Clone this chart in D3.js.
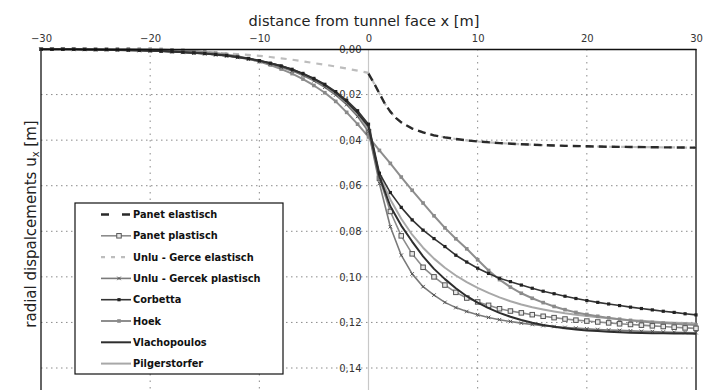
<!DOCTYPE html>
<html>
<head>
<meta charset="utf-8">
<script src="https://cdn.jsdelivr.net/npm/d3@7"></script>
<style>
  html, body { margin: 0; padding: 0; background: #ffffff; }
  svg { display: block; font-family: "DejaVu Sans", Verdana, sans-serif; }
</style>
</head>
<body>
<svg id="chart" width="713" height="390"></svg>
<script>
// x positions (m) of the calculated points
const xFull = [-30,-29,-28,-27,-26,-25,-24,-23,-22,-21,-20,-19,-18,-17,-16,-15,-14,-13,-12,-11,
  -10,-9,-8,-7,-6,-5,-4,-3,-2,-1,0,1,2,3,4,5,6,7,8,9,10,11,12,13,14,15,16,17,18,19,20,
  21,22,23,24,25,26,27,28,29,30];
const xFace = [0,1,2,3,4,5,6,7,8,9,10,11,12,13,14,15,16,17,18,19,20,21,22,23,24,25,26,27,28,29,30];
const xElastic = [0,0.5,1,1.5,2,2.5,3,4,5,6,7,8,9,10,12,14,16,18,20,22,24,26,28,30];
const xUnluElastic = [-30,-28,-26,-24,-22,-20,-18,-16,-14,-12,-10,-9,-8,-7,-6,-5,-4,-3,-2,-1,
  0,0.5,1,1.5,2,2.5,3,4,5,6,7,8,9,10,12,14,16,18,20,22,24,26,28,30];

const xTicks = [-30, -20, -10, 0, 10, 20, 30];
const yTicks = [0, 0.02, 0.04, 0.06, 0.08, 0.10, 0.12, 0.14];

// radial displacements u_x [m]
const panetElastisch = [0.0108,0.0150,0.0195,0.0240,0.0275,0.0302,0.0322,0.0349,0.0366,0.0379,
  0.0388,0.0395,0.0401,0.0406,0.0413,0.0418,0.0422,0.0425,0.0427,0.0429,0.0430,0.0431,0.0432,0.0433];

const unluElastisch = [0,0.0001,0.0001,0.0002,0.0003,0.0005,0.0008,0.0011,0.0016,0.0022,
  0.0030,0.0035,0.0041,0.0047,0.0054,0.0062,0.0069,0.0077,0.0086,0.0095,
  0.0105,0.0150,0.0195,0.0240,0.0275,0.0302,0.0322,0.0349,0.0366,0.0379,
  0.0388,0.0395,0.0401,0.0406,0.0413,0.0418,0.0422,0.0425,0.0427,0.0429,0.0430,0.0431,0.0432,0.0433];

const panetPlastisch = [0.0363,0.0567,0.0713,0.0820,0.0899,0.0958,0.1000,0.1036,0.1068,0.1093,
  0.1110,0.1125,0.1140,0.1150,0.1158,0.1166,0.1173,0.1179,0.1185,0.1190,
  0.1194,0.1198,0.1202,0.1206,0.1209,0.1212,0.1215,0.1218,0.1221,0.1224,0.1226];

const unluPlastisch = [0.0001,0.0001,0.0001,0.0002,0.0002,0.0003,0.0003,0.0004,0.0005,0.0007,
  0.0008,0.0010,0.0012,0.0015,0.0018,0.0021,0.0026,0.0031,0.0037,0.0045,
  0.0055,0.0066,0.0080,0.0096,0.0116,0.0140,0.0168,0.0202,0.0244,0.0296,
  0.0363,0.0590,0.0780,0.0905,0.0987,0.1043,0.1080,0.1112,0.1135,0.1152,
  0.1166,0.1178,0.1188,0.1196,0.1203,0.1209,0.1214,0.1218,0.1222,0.1225,
  0.1228,0.1231,0.1233,0.1235,0.1237,0.1239,0.1240,0.1242,0.1243,0.1244,0.1245];

const corbetta = [0.0001,0.0001,0.0001,0.0001,0.0002,0.0003,0.0003,0.0004,0.0005,0.0006,
  0.0008,0.0010,0.0012,0.0014,0.0017,0.0020,0.0024,0.0029,0.0035,0.0042,
  0.0051,0.0062,0.0074,0.0089,0.0107,0.0129,0.0155,0.0187,0.0225,0.0271,
  0.0330,0.0545,0.0630,0.0695,0.0750,0.0795,0.0832,0.0867,0.0905,0.0935,
  0.0962,0.0985,0.1006,0.1021,0.1036,0.1050,0.1063,0.1074,0.1085,0.1095,
  0.1104,0.1112,0.1119,0.1126,0.1133,0.1139,0.1145,0.1151,0.1156,0.1162,0.1167];

const hoek = [0,0,0,0,0,0,0,0,0,0.0001,
  0.0001,0.0002,0.0004,0.0006,0.0009,0.0013,0.0018,0.0024,0.0032,0.0042,
  0.0055,0.0070,0.0088,0.0108,0.0132,0.0160,0.0192,0.0230,0.0278,0.0330,
  0.0386,0.0445,0.0502,0.0562,0.0620,0.0676,0.0732,0.0785,0.0833,0.0877,
  0.0925,0.0972,0.1012,0.1045,0.1072,0.1094,0.1113,0.1130,0.1144,0.1156,
  0.1165,0.1173,0.1180,0.1186,0.1191,0.1196,0.1200,0.1203,0.1206,0.1209,0.1211];

const vlachopoulos = [0.0001,0.0001,0.0001,0.0001,0.0002,0.0002,0.0003,0.0004,0.0005,0.0006,
  0.0008,0.0009,0.0011,0.0014,0.0016,0.0020,0.0024,0.0029,0.0035,0.0042,
  0.0051,0.0062,0.0075,0.0090,0.0109,0.0131,0.0158,0.0191,0.0231,0.0280,
  0.0340,0.0560,0.0690,0.0775,0.0845,0.0910,0.0965,0.1010,0.1050,0.1085,
  0.1113,0.1137,0.1158,0.1175,0.1189,0.1201,0.1211,0.1219,0.1226,0.1231,
  0.1235,0.1238,0.1241,0.1243,0.1245,0.1246,0.1247,0.1248,0.1249,0.1249,0.1250];

const pilgerstorfer = [0.0001,0.0001,0.0001,0.0001,0.0002,0.0002,0.0003,0.0004,0.0005,0.0006,
  0.0008,0.0009,0.0011,0.0014,0.0017,0.0020,0.0024,0.0029,0.0036,0.0043,
  0.0052,0.0063,0.0076,0.0092,0.0111,0.0134,0.0162,0.0195,0.0236,0.0287,
  0.0350,0.0555,0.0660,0.0745,0.0815,0.0872,0.0920,0.0960,0.0994,0.1023,
  0.1048,0.1070,0.1090,0.1107,0.1121,0.1133,0.1143,0.1152,0.1160,0.1166,
  0.1172,0.1177,0.1182,0.1186,0.1190,0.1193,0.1196,0.1199,0.1201,0.1203,0.1205];

const W = 713, H = 390;
const plot = { left: 41, right: 696, top: 49, bottom: 396 };

const svg = d3.select("#chart");
svg.append("rect").attr("width", W).attr("height", H).attr("fill", "#ffffff");

const x = d3.scaleLinear().domain([-30, 30]).range([plot.left, plot.right]);
const y = d3.scaleLinear().domain([0, 0.14]).range([plot.top, 368]);

// grid
const g_grid = svg.append("g");
g_grid.selectAll("line.hgrid")
  .data(yTicks.filter(d => d > 0))
  .enter().append("line")
  .attr("x1", plot.left).attr("x2", plot.right)
  .attr("y1", d => y(d)).attr("y2", d => y(d))
  .attr("stroke", "#8a8a8a").attr("stroke-width", 1)
  .attr("stroke-dasharray", "1.5,3.5");
g_grid.selectAll("line.vgrid")
  .data(xTicks.filter(d => d !== 0 && Math.abs(d) !== 30))
  .enter().append("line")
  .attr("x1", d => x(d)).attr("x2", d => x(d))
  .attr("y1", plot.top).attr("y2", plot.bottom)
  .attr("stroke", "#8a8a8a").attr("stroke-width", 1)
  .attr("stroke-dasharray", "1.5,5");
g_grid.append("line")
  .attr("x1", x(0)).attr("x2", x(0))
  .attr("y1", plot.top).attr("y2", plot.bottom)
  .attr("stroke", "#c8c8c8").attr("stroke-width", 1.2);

// y tick labels sit on the x = 0 line
const g_yaxis = svg.append("g")
  .attr("transform", "translate(" + x(0) + ",0)")
  .call(d3.axisLeft(y).tickValues(yTicks).tickSize(0).tickPadding(7)
    .tickFormat(d => d3.format(".2f")(d).replace(".", ",")));
g_yaxis.select(".domain").remove();
g_yaxis.selectAll("text")
  .style("font-family", "DejaVu Sans, sans-serif")
  .style("font-size", "10px")
  .attr("fill", "#333333");

// frame
svg.append("line")
  .attr("x1", plot.left).attr("x2", plot.left)
  .attr("y1", plot.top).attr("y2", plot.bottom)
  .attr("stroke", "#111111").attr("stroke-width", 1.3);
svg.append("line")
  .attr("x1", plot.right).attr("x2", plot.right)
  .attr("y1", plot.top).attr("y2", plot.bottom)
  .attr("stroke", "#111111").attr("stroke-width", 1.3);

// series
const line = d3.line().x(d => x(d[0])).y(d => y(d[1]));
const zip = (xs, ys) => xs.map((v, i) => [v, ys[i]]);
const g_series = svg.append("g");

function fn_drawSeries(xs, ys, style) {
  const pts = zip(xs, ys);
  g_series.append("path")
    .datum(pts)
    .attr("d", line)
    .attr("fill", "none")
    .attr("stroke", style.color)
    .attr("stroke-width", style.width)
    .attr("stroke-dasharray", style.dash || null)
    .attr("stroke-linejoin", "round");
  if (style.marker) {
    fn_drawMarkers(g_series, pts.map(p => [x(p[0]), y(p[1])]), style);
  }
}

function fn_drawMarkers(parent, pts, style) {
  const s = style.size;
  if (style.marker === "square" || style.marker === "openSquare") {
    parent.selectAll(null).data(pts).enter().append("rect")
      .attr("x", d => d[0] - s / 2).attr("y", d => d[1] - s / 2)
      .attr("width", s).attr("height", s)
      .attr("fill", style.marker === "openSquare" ? "#e8e8e8" : style.markerColor)
      .attr("stroke", style.markerColor)
      .attr("stroke-width", style.marker === "openSquare" ? 1 : 0);
  } else if (style.marker === "cross") {
    parent.selectAll(null).data(pts).enter().append("path")
      .attr("d", d => "M" + (d[0] - s / 2) + "," + (d[1] - s / 2) + "L" + (d[0] + s / 2) + "," + (d[1] + s / 2)
        + "M" + (d[0] - s / 2) + "," + (d[1] + s / 2) + "L" + (d[0] + s / 2) + "," + (d[1] - s / 2))
      .attr("stroke", style.markerColor).attr("stroke-width", 1).attr("fill", "none");
  }
}

const styles = {
  panetEl: { color: "#2a2a2a", width: 2.4, dash: "8,5" },
  panetPl: { color: "#8c8c8c", width: 1.6, marker: "openSquare", markerColor: "#555555", size: 4.5 },
  unluEl: { color: "#bdbdbd", width: 2.2, dash: "6,6" },
  unluPl: { color: "#7a7a7a", width: 1.6, marker: "cross", markerColor: "#555555", size: 3.5 },
  corbetta: { color: "#333333", width: 1.6, marker: "square", markerColor: "#222222", size: 3.2 },
  hoek: { color: "#8e8e8e", width: 2, marker: "square", markerColor: "#8a8a8a", size: 3.6 },
  vlach: { color: "#2e2e2e", width: 2 },
  pilger: { color: "#a8a8a8", width: 2 }
};

fn_drawSeries(xUnluElastic, unluElastisch, styles.unluEl);
fn_drawSeries(xElastic, panetElastisch, styles.panetEl);
fn_drawSeries(xFull, pilgerstorfer, styles.pilger);
fn_drawSeries(xFull, hoek, styles.hoek);
fn_drawSeries(xFace, panetPlastisch, styles.panetPl);
fn_drawSeries(xFull, unluPlastisch, styles.unluPl);
fn_drawSeries(xFull, vlachopoulos, styles.vlach);
fn_drawSeries(xFull, corbetta, styles.corbetta);

// top x axis
const g_xaxis = svg.append("g")
  .attr("transform", "translate(0," + plot.top + ")")
  .call(d3.axisTop(x).tickValues(xTicks).tickSize(0).tickPadding(7));
g_xaxis.select(".domain").attr("stroke", "#111111").attr("stroke-width", 1.3);
g_xaxis.selectAll("text")
  .style("font-family", "DejaVu Sans, sans-serif")
  .style("font-size", "10px")
  .attr("fill", "#333333");

// titles
svg.append("text")
  .text("distance from tunnel face x [m]")
  .attr("x", 364).attr("y", 26)
  .attr("text-anchor", "middle")
  .style("font-size", "14.6px")
  .attr("fill", "#222222");

const yTitle = svg.append("text")
  .attr("transform", "translate(36,224) rotate(-90)")
  .attr("text-anchor", "middle")
  .style("font-size", "15px")
  .attr("fill", "#222222");
yTitle.append("tspan").text("radial dispalcements u");
yTitle.append("tspan").text("x").style("font-size", "10px").attr("dy", 3);
yTitle.append("tspan").text(" [m]").attr("dy", -3);

// legend
const legendNames = ["Panet elastisch", "Panet plastisch", "Unlu - Gerce elastisch",
  "Unlu - Gercek plastisch", "Corbetta", "Hoek", "Vlachopoulos", "Pilgerstorfer"];
const legendStyles = [styles.panetEl, styles.panetPl, styles.unluEl, styles.unluPl,
  styles.corbetta, styles.hoek, styles.vlach, styles.pilger];

const g_legend = svg.append("g").attr("transform", "translate(75,203)");
g_legend.append("rect")
  .attr("width", 208).attr("height", 171)
  .attr("fill", "#ffffff")
  .attr("stroke", "#111111").attr("stroke-width", 1.2);
legendNames.forEach((name, i) => {
  const st = legendStyles[i];
  const ly = 11.5 + i * 21.3;
  const g_item = g_legend.append("g");
  g_item.append("line")
    .attr("x1", 26).attr("x2", 56)
    .attr("y1", ly).attr("y2", ly)
    .attr("stroke", st.color)
    .attr("stroke-width", st.width)
    .attr("stroke-dasharray", st.dash ? (i === 0 ? "8,13" : "4,6") : null);
  if (st.marker) fn_drawMarkers(g_item, [[44, ly]], st);
  g_item.append("text")
    .text(name)
    .attr("x", 58).attr("y", ly + 3.5)
    .style("font-size", "9.8px")
    .style("font-weight", "bold")
    .attr("fill", "#111111");
});
</script>
</body>
</html>
